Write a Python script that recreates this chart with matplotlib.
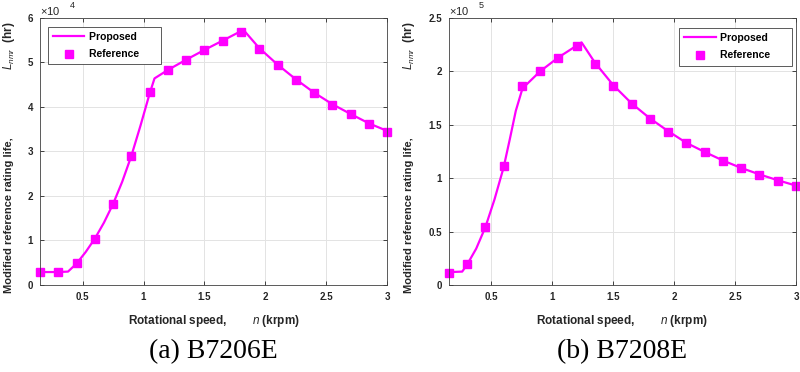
import numpy as np
import matplotlib
matplotlib.use("Agg")
import matplotlib.pyplot as plt

# rotational speed (krpm) of the reference points
speed = [0.15, 0.3, 0.45, 0.6, 0.75, 0.9, 1.05, 1.2, 1.35, 1.5,
         1.65, 1.8, 1.95, 2.1, 2.25, 2.4, 2.55, 2.7, 2.85, 3.0]

# (a) B7206E, life in units of 1e4 hr
ref_a = [0.28, 0.29, 0.49, 1.03, 1.82, 2.90, 4.33, 4.82, 5.06, 5.27,
         5.49, 5.69, 5.31, 4.94, 4.61, 4.31, 4.05, 3.83, 3.62, 3.44]
prop_a_x = [0.15, 0.3, 0.38, 0.45, 0.525, 0.6, 0.675, 0.75, 0.825, 0.9, 0.975,
            1.05, 1.09, 1.2, 1.35, 1.5, 1.65, 1.82, 1.95, 2.1, 2.25, 2.4,
            2.55, 2.7, 2.85, 3.0]
prop_a_y = [0.29, 0.29, 0.30, 0.48, 0.74, 1.04, 1.40, 1.82, 2.32, 2.90, 3.58,
            4.30, 4.64, 4.83, 5.06, 5.28, 5.49, 5.73, 5.32, 4.95, 4.62, 4.32,
            4.06, 3.84, 3.63, 3.46]

# (b) B7208E, life in units of 1e5 hr
ref_b = [0.116, 0.194, 0.539, 1.11, 1.86, 2.00, 2.12, 2.24, 2.07, 1.86,
         1.69, 1.55, 1.43, 1.325, 1.24, 1.16, 1.09, 1.03, 0.97, 0.925]
prop_b_x = [0.15, 0.26, 0.3, 0.375, 0.45, 0.525, 0.6, 0.65, 0.7, 0.755, 0.9,
            1.05, 1.24, 1.35, 1.5, 1.65, 1.8, 1.95, 2.1, 2.25, 2.4, 2.55,
            2.7, 2.85, 3.0]
prop_b_y = [0.12, 0.125, 0.19, 0.34, 0.54, 0.80, 1.10, 1.36, 1.63, 1.84, 2.00,
            2.13, 2.27, 2.08, 1.87, 1.70, 1.56, 1.44, 1.33, 1.245, 1.165,
            1.095, 1.035, 0.98, 0.93]

xticks = [0.5, 1, 1.5, 2, 2.5, 3]
xtick_labels = ["0.5", "1", "1.5", "2", "2.5", "3"]
yticks_a = [0, 1, 2, 3, 4, 5, 6]
ytick_labels_a = ["0", "1", "2", "3", "4", "5", "6"]
yticks_b = [0, 0.5, 1, 1.5, 2, 2.5]
ytick_labels_b = ["0", "0.5", "1", "1.5", "2", "2.5"]

MAGENTA = "#ff00ff"
TXT = "#262626"
plt.rcParams["font.family"] = ["Liberation Sans", "DejaVu Sans"]
plt.rcParams["mathtext.fontset"] = "custom"
plt.rcParams["mathtext.it"] = "Liberation Sans:italic"
plt.rcParams["mathtext.rm"] = "Liberation Sans"

fig = plt.figure(figsize=(8, 3.72), dpi=100)


def panel(rect, ref, px, py, yticks, ylabels, ymax, power, caption, leg_xy,
          ylab_x):
    ax = fig.add_axes(rect)
    line, = ax.plot(px, py, color=MAGENTA, lw=1.6)
    pts, = ax.plot(speed, ref, ls="none", marker="s", ms=5.2,
                   color=MAGENTA, clip_on=False)
    ax.set_xlim(0.15, 3)
    ax.set_ylim(0, ymax)
    ax.set_xticks(xticks)
    ax.set_xticklabels(xtick_labels)
    ax.set_yticks(yticks)
    ax.set_yticklabels(ylabels)
    ax.grid(True, color="#e3e3e3", lw=0.7)
    ax.set_axisbelow(True)
    ax.tick_params(direction="in", length=3, width=0.6, colors=TXT,
                   labelsize=7, top=True, right=True, pad=5)
    for lab in ax.get_xticklabels() + ax.get_yticklabels():
        lab.set_fontweight("bold")
    for s in ax.spines.values():
        s.set_color("#404040")
        s.set_linewidth(0.6)
    ax.set_xlabel("Rotational speed,        $\\mathit{n}$ (krpm)",
                  fontsize=8.5, fontweight="bold", color=TXT, labelpad=8)
    # y label drawn in two parts, as in the original figure
    fig.text(ylab_x, (372 - 293) / 372, "Modified reference rating life,",
             rotation=90, ha="center", va="bottom", fontsize=8,
             fontweight="bold", color=TXT)
    fig.text(ylab_x, (372 - 21) / 372, "$\\mathit{L}_{\\mathit{nmr}}$  (hr)",
             rotation=90, ha="center", va="top", fontsize=8.5,
             fontweight="bold", color=TXT)
    ax.text(0.0, 1.011, "$\\times$10", transform=ax.transAxes, fontsize=8,
            color=TXT, ha="left", va="baseline")
    ax.text(0.085, 1.036, power, transform=ax.transAxes, fontsize=6.5,
            color=TXT, ha="left", va="baseline")
    leg = ax.legend([line, pts], ["Proposed      ", "Reference      "],
                    loc="upper left", numpoints=1,
                    bbox_to_anchor=leg_xy, bbox_transform=fig.transFigure,
                    borderaxespad=0, fancybox=False, edgecolor="#404040",
                    framealpha=1, handlelength=3.0, handletextpad=0.4,
                    labelspacing=0.7, borderpad=0.5,
                    prop={"weight": "bold", "size": 7.5})
    leg.get_frame().set_linewidth(0.6)
    fig.text(rect[0] + rect[2] / 2, 0.02, caption, ha="center",
             va="bottom", fontsize=20, family="Liberation Serif")
    return ax


panel([0.05, 0.234, 0.434, 0.718], ref_a, prop_a_x, prop_a_y, yticks_a,
      ytick_labels_a, 6, "4", "(a) B7206E", (0.06, 0.928), 9 / 800)
panel([0.561, 0.234, 0.434, 0.718], ref_b, prop_b_x, prop_b_y, yticks_b,
      ytick_labels_b, 2.5, "5", "(b) B7208E", (0.849, 0.925), 409 / 800)

fig.savefig("out.png", dpi=100)
